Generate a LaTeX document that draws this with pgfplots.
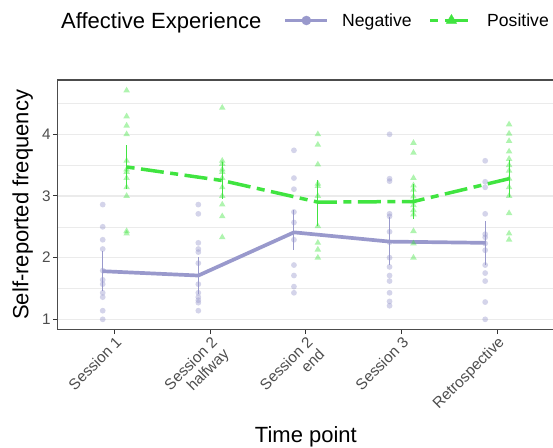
\documentclass[border=0pt]{standalone}
\usepackage{pgfplots}
\pgfplotsset{compat=1.18}
\usepackage{fontspec}
\setmainfont{Liberation Sans}
\definecolor{negc}{RGB}{153,153,204}
\definecolor{posc}{RGB}{64,228,64}
\definecolor{gridc}{RGB}{235,235,235}
\definecolor{tickc}{RGB}{77,77,77}
\begin{document}
\begin{tikzpicture}[x=1pt,y=1pt]
\useasboundingbox (0,0) rectangle (553,447);
\begin{axis}[
  at={(57.3pt,117.5pt)}, anchor=south west,
  scale only axis, width=497.2pt, height=249.5pt,
  xmin=0.4, xmax=5.6, ymin=0.835, ymax=4.88,
  xtick={1,2,3,4,5},
  xticklabels={Session 1, Session 2\\halfway, Session 2\\end, Session 3, Retrospective},
  xticklabel style={rotate=45, anchor=north east, align=right, font=\fontsize{15.3}{16.5}\selectfont, text=tickc, inner sep=1pt},
  ytick={1,2,3,4}, minor ytick={1.5,2.5,3.5,4.5},
  yticklabel style={font=\fontsize{15.3}{16}\selectfont, text=tickc, inner sep=2pt},
  /pgf/number format/assume math mode=true,
  ymajorgrids, yminorgrids,
  major grid style={gridc, line width=1.1pt},
  minor grid style={gridc, line width=0.55pt},
  tick align=outside, major tick length=4.5pt, minor tick length=0pt,
  tick style={color=black!80, line width=1pt},
  xtick pos=bottom, ytick pos=left,
  axis line style={black!70, line width=1.2pt},
  xlabel={Time point},
  xlabel style={at={(axis description cs:0.5,-0.451)}, anchor=base, font=\fontsize{22}{24}\selectfont, inner sep=0pt},
  ylabel={Self-reported frequency},
  ylabel style={at={(axis description cs:-0.058,0.5)}, anchor=base, font=\fontsize{22}{24}\selectfont, inner sep=0pt},
  legend columns=-1,
  legend style={at={(axis description cs:0.455,1.2385)}, anchor=west, draw=none, fill=none,
    inner sep=0pt, outer sep=0pt, font=\fontsize{17.6}{20}\selectfont,
    nodes={inner sep=0pt},
    /tikz/every odd column/.append style={column sep=13pt},
    /tikz/every even column/.append style={column sep=17pt}},
  legend image code/.code={\draw[mark repeat=2,mark phase=2,#1] plot coordinates {(0pt,0pt)(21pt,0pt)(42pt,0pt)};},
  clip=false,
]
\node[anchor=base west, inner sep=0pt, font=\fontsize{22}{24}\selectfont] at (axis description cs:0.0074,1.2044) {Affective Experience};
\addlegendimage{negc, line width=3.7pt, mark=*, mark size=4.5pt, mark options={solid, line width=0.5pt}}
\addlegendentry{Negative}
\addlegendimage{posc, line width=3.5pt, dash pattern=on 8pt off 6.5pt on 23pt off 6.5pt, mark=triangle*, mark size=6pt, mark options={solid, line width=0.5pt}}
\addlegendentry{Positive}

% Negative raw points
\addplot[forget plot, only marks, mark=*, mark size=2.9pt, negc, mark options={fill=negc, fill opacity=0.42, draw opacity=0}] coordinates {
(0.875,2.86)(0.875,2.50)(0.875,2.29)(0.875,2.14)(0.875,1.79)(0.875,1.64)(0.875,1.57)(0.875,1.43)(0.875,1.36)(0.875,1.14)(0.875,1.00)
(1.875,2.86)(1.875,2.71)(1.875,2.24)(1.875,2.14)(1.875,2.09)(1.875,1.91)(1.875,1.57)(1.875,1.43)(1.875,1.36)(1.875,1.31)(1.875,1.27)(1.875,1.14)
(2.875,3.74)(2.875,3.29)(2.875,3.11)(2.875,2.74)(2.875,2.57)(2.875,2.29)(2.875,1.88)(2.875,1.71)(2.875,1.53)(2.875,1.43)
(3.875,4.00)(3.875,3.28)(3.875,3.24)(3.875,2.71)(3.875,2.67)(3.875,2.42)(3.875,2.25)(3.875,2.00)(3.875,1.85)(3.875,1.71)(3.875,1.62)(3.875,1.43)(3.875,1.29)(3.875,1.22)
(4.875,3.57)(4.875,3.23)(4.875,3.14)(4.875,2.71)(4.875,2.38)(4.875,2.33)(4.875,2.23)(4.875,2.12)(4.875,1.88)(4.875,1.75)(4.875,1.62)(4.875,1.28)(4.875,1.00)
};
% Positive raw points
\addplot[forget plot, only marks, mark=triangle*, mark size=3.8pt, posc, mark options={fill=posc, fill opacity=0.42, draw opacity=0}] coordinates {
(1.125,4.71)(1.125,4.29)(1.125,4.14)(1.125,4.00)(1.125,3.57)(1.125,3.43)(1.125,3.39)(1.125,3.29)(1.125,3.14)(1.125,3.00)(1.125,2.43)(1.125,2.39)
(2.125,4.43)(2.125,3.57)(2.125,3.52)(2.125,3.43)(2.125,3.39)(2.125,3.29)(2.125,3.14)(2.125,3.00)(2.125,2.86)(2.125,2.67)(2.125,2.33)
(3.125,4.00)(3.125,3.83)(3.125,3.51)(3.125,3.20)(3.125,3.16)(3.125,3.00)(3.125,2.51)(3.125,2.24)(3.125,2.13)(3.125,2.00)
(4.125,3.86)(4.125,3.70)(4.125,3.29)(4.125,3.17)(4.125,3.10)(4.125,2.99)(4.125,2.91)(4.125,2.85)(4.125,2.77)(4.125,2.70)(4.125,2.43)(4.125,2.23)(4.125,2.00)
(5.125,4.16)(5.125,4.01)(5.125,3.89)(5.125,3.72)(5.125,3.60)(5.125,3.50)(5.125,3.41)(5.125,3.28)(5.125,3.14)(5.125,3.00)(5.125,2.72)(5.125,2.39)(5.125,2.29)
};
% Negative mean line with error bars
\addplot[forget plot, negc, line width=3.7pt, line join=round,
  error bars/.cd, y dir=both, y explicit, error mark=none,
  error bar style={negc, line width=1pt, solid}] coordinates {
(0.875,1.78) += (0,0.32) -= (0,0.32)
(1.875,1.71) += (0,0.30) -= (0,0.30)
(2.875,2.41) += (0,0.36) -= (0,0.29)
(3.875,2.26) += (0,0.40) -= (0,0.38)
(4.875,2.24) += (0,0.36) -= (0,0.36)
};
% Positive mean line with error bars
\addplot[forget plot, posc, line width=3.5pt, dash pattern=on 8pt off 6.5pt on 23pt off 6.5pt,
  error bars/.cd, y dir=both, y explicit, error mark=none,
  error bar style={posc, line width=1pt, solid}] coordinates {
(1.125,3.47) += (0,0.35) -= (0,0.35)
(2.125,3.25) += (0,0.30) -= (0,0.30)
(3.125,2.90) += (0,0.36) -= (0,0.38)
(4.125,2.91) += (0,0.29) -= (0,0.28)
(5.125,3.28) += (0,0.30) -= (0,0.29)
};
\end{axis}
\end{tikzpicture}
\end{document}
